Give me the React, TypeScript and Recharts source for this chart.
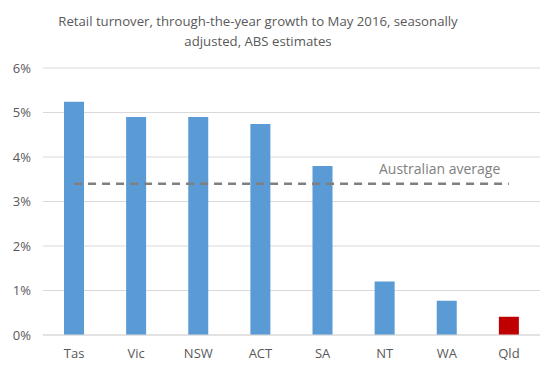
import { Bar, CartesianGrid, Cell, ComposedChart, Line, XAxis, YAxis } from "recharts";

// retail turnover growth by state, year to May 2016
const states = ["Tas", "Vic", "NSW", "ACT", "SA", "NT", "WA", "Qld"];
const growth = [5.24, 4.9, 4.9, 4.74, 3.8, 1.2, 0.77, 0.41];
const australianAverage = 3.4;
const yTicks = [0, 1, 2, 3, 4, 5, 6];

const data = states.map((state, i) => ({ state, growth: growth[i], avg: australianAverage }));

const FONT = "'Open Sans', 'Liberation Sans', sans-serif";

export default function App() {
  return (
    <div style={{ position: "absolute", left: 0, top: 0, width: 560, height: 374, background: "#fff", fontFamily: FONT }}>
      <div
        style={{
          position: "absolute",
          left: 0,
          top: 11,
          width: 516,
          textAlign: "center",
          fontSize: 13.2,
          lineHeight: "20px",
          color: "#595959",
        }}
      >
        Retail turnover, through-the-year growth to May 2016, seasonally
        <br />
        adjusted, ABS estimates
      </div>
      <ComposedChart width={560} height={374} data={data} margin={{ top: 68, right: 20, bottom: 9, left: 8 }}>
        <CartesianGrid vertical={false} stroke="#d9d9d9" />
        <XAxis
          dataKey="state"
          axisLine={{ stroke: "#d9d9d9" }}
          tickLine={false}
          tick={{ fill: "#595959", fontSize: 13, fontFamily: FONT }}
          tickMargin={8}
          height={30}
        />
        <YAxis
          domain={[0, 6]}
          ticks={yTicks}
          width={35}
          axisLine={false}
          tickLine={false}
          tickFormatter={(v) => `${v}%`}
          tick={{ fill: "#595959", fontSize: 13, fontFamily: FONT }}
          tickMargin={6}
        />
        <Bar dataKey="growth" barSize={20} isAnimationActive={false}>
          {data.map((d) => (
            <Cell key={d.state} fill={d.state === "Qld" ? "#c00000" : "#5b9bd5"} />
          ))}
        </Bar>
        <Line
          dataKey="avg"
          stroke="#808080"
          strokeWidth={2.5}
          strokeDasharray="8 6"
          dot={false}
          activeDot={false}
          isAnimationActive={false}
        />
      </ComposedChart>
      <div
        style={{
          position: "absolute",
          left: 379,
          top: 159,
          fontSize: 14,
          color: "#808080",
        }}
      >
        Australian average
      </div>
    </div>
  );
}
